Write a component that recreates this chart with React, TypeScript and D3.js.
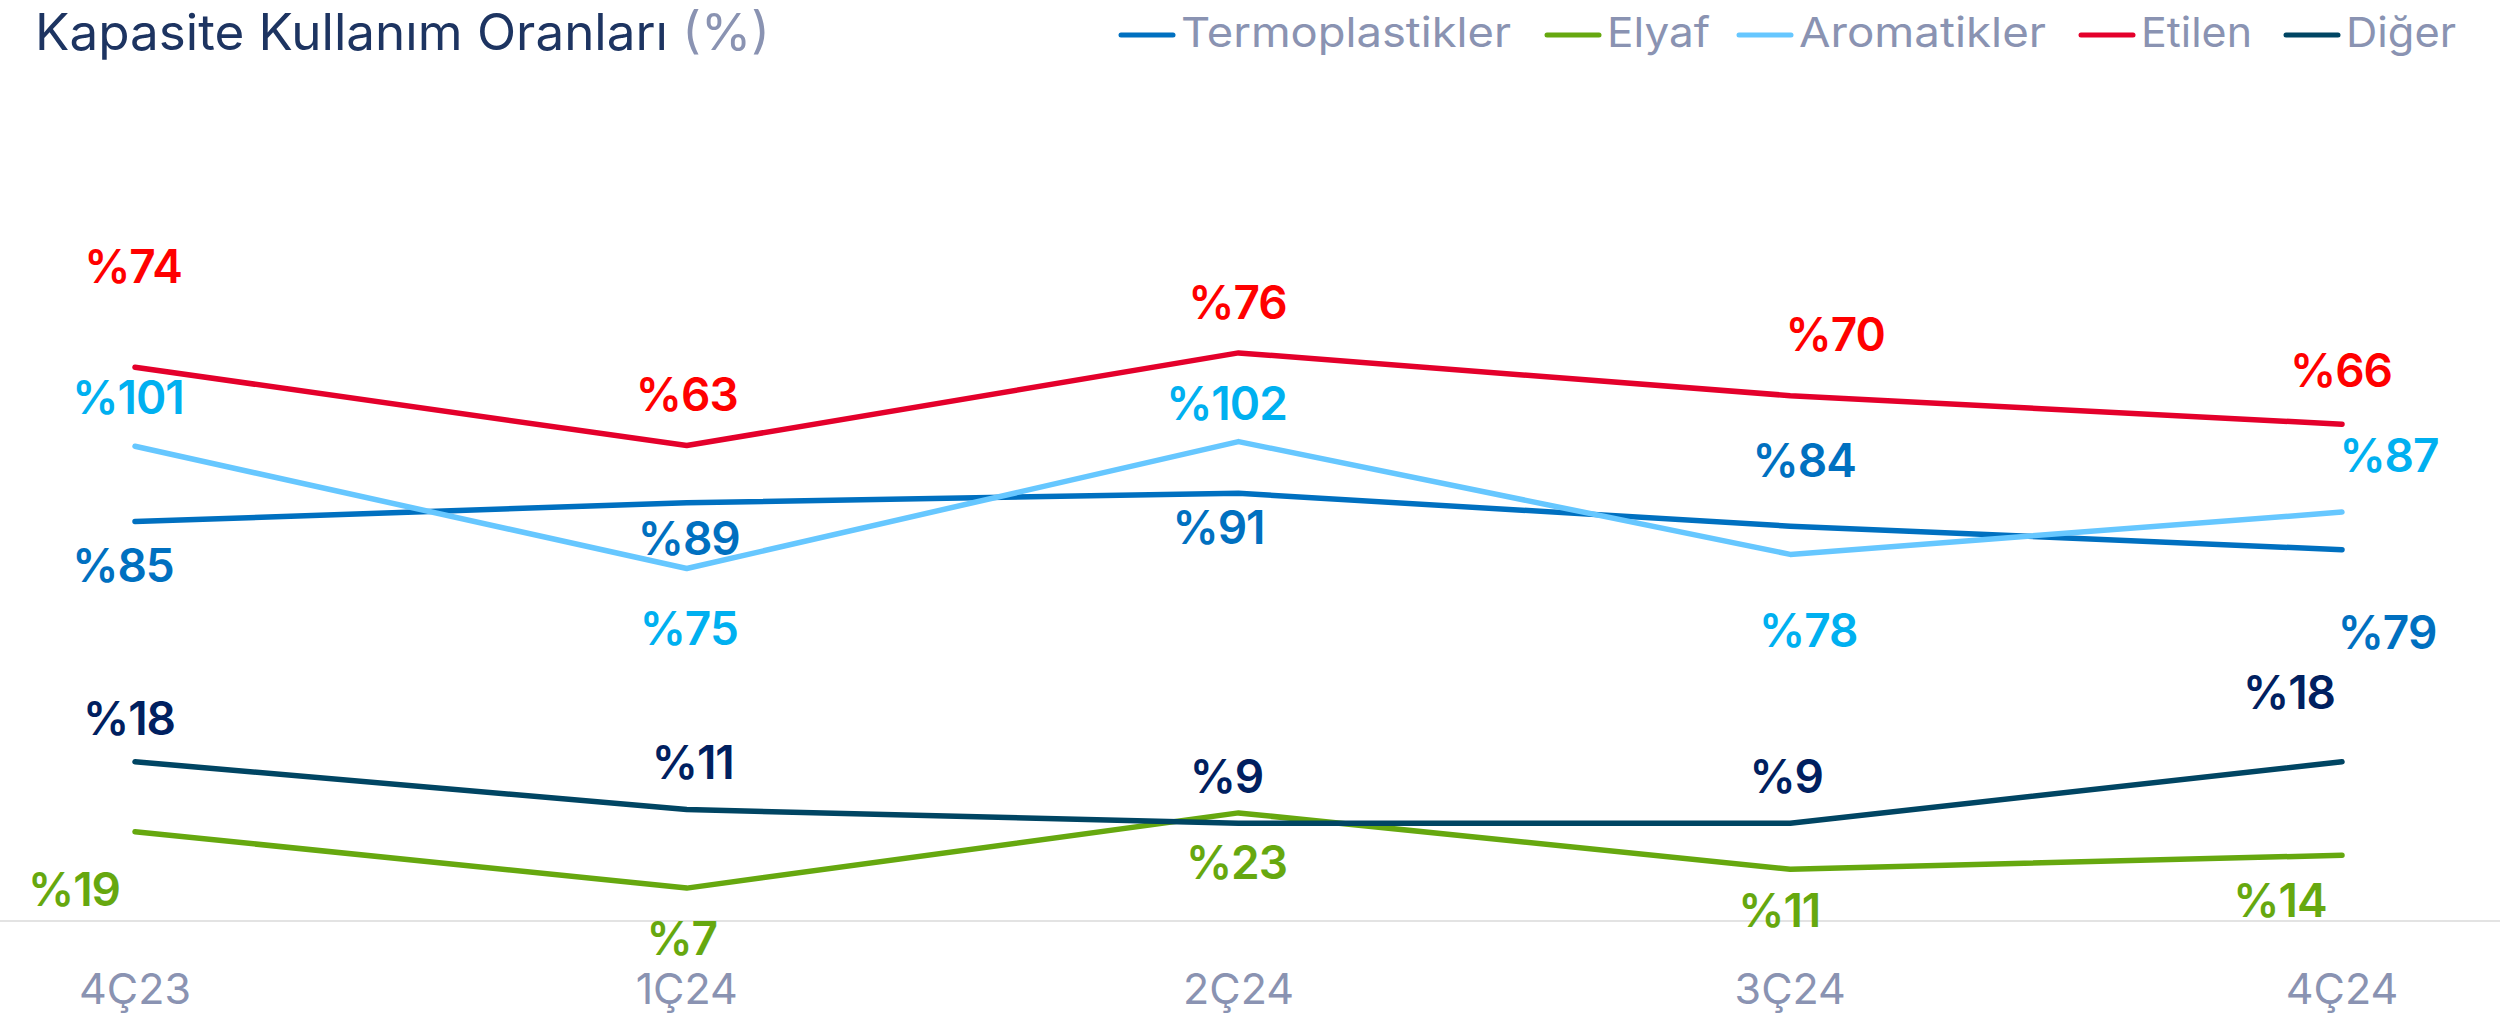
import React from "react";
import * as d3 from "d3";

const categories = ["4Ç23", "1Ç24", "2Ç24", "3Ç24", "4Ç24"];
const termoplastikler = [85, 89, 91, 84, 79];
const elyaf = [19, 7, 23, 11, 14];
const aromatikler = [101, 75, 102, 78, 87];
const etilen = [74, 63, 76, 70, 66];
const diger = [18, 11, 9, 9, 18];
const seriesNames = ["Termoplastikler", "Elyaf", "Aromatikler", "Etilen", "Diğer"];

const W = 2500;
const H = 1026;
const FONT = "Inter, 'Open Sans', sans-serif";

type Series = {
  name: string;
  values: number[];
  line: string;
  label: string;
  domain: [number, number];
  dx: number[];
  dy: number[];
};

const series: Series[] = [
  { name: seriesNames[0], values: termoplastikler, line: "#0070C0", label: "#0070C0", domain: [0, 160],
    dx: [-12, 2, -20, 14, 45], dy: [60, 52, 51, -49, 99] },
  { name: seriesNames[1], values: elyaf, line: "#66A80F", label: "#66A80F", domain: [0, 160],
    dx: [-61, -5, -2, -11, -62], dy: [74, 67, 66, 58, 62] },
  { name: seriesNames[2], values: aromatikler, line: "#66C7FF", label: "#00B0F0", domain: [0, 160],
    dx: [-7, 2, -12, 18, 47], dy: [-32, 76, -22, 93, -40] },
  { name: seriesNames[3], values: etilen, line: "#E4002B", label: "#FF0000", domain: [-3.7, 101.8],
    dx: [-2, 0, -1, 45, -1], dy: [-84, -35, -34, -45, -37] },
  { name: seriesNames[4], values: diger, line: "#004563", label: "#002060", domain: [-5.3, 104.7],
    dx: [-6, 6, -12, -4, -53], dy: [-27, -31, -30, -30, -53] },
];

const legendX = [1118, 1544, 1736, 2078, 2283];
const legendTextW = [330, 103, 247, 111, 110];

export default function App() {
  const x = d3.scalePoint<string>().domain(categories).range([135, 2342]);
  const baseY = 921;
  const topY = 169;

  return (
    <div style={{ position: "absolute", left: 0, top: 0, width: W, height: H, background: "#fff" }}>
      <svg width={W} height={H} style={{ display: "block" }}>
        <rect x={0} y={0} width={W} height={H} fill="#fff" />
        {/* title */}
        <text x={35} y={50} fontFamily={FONT} fontSize={50} fill="#1D3461" textLength={735} lengthAdjust="spacingAndGlyphs">
          Kapasite Kullanım Oranları <tspan fill="#8A93B2">(%)</tspan>
        </text>
        {/* legend */}
        {series.map((s, i) => (
          <g key={s.name}>
            <line x1={legendX[i] + 3} x2={legendX[i] + 55} y1={35} y2={35} stroke={s.line} strokeWidth={5} strokeLinecap="round" />
            <text x={legendX[i] + 63} y={47} fontFamily={FONT} fontSize={41} fill="#8A93B2"
              textLength={legendTextW[i]} lengthAdjust="spacingAndGlyphs">{s.name}</text>
          </g>
        ))}
        {/* baseline */}
        <line x1={0} x2={W} y1={baseY} y2={baseY} stroke="#E3E3E3" strokeWidth={2} />
        {/* x axis labels */}
        {categories.map((c) => (
          <text key={c} x={x(c)} y={1004} textAnchor="middle" fontFamily={FONT} fontSize={43} fill="#8A93B2">{c}</text>
        ))}
        {/* lines */}
        {series.map((s) => {
          const y = d3.scaleLinear().domain(s.domain).range([baseY, topY]);
          const gen = d3.line<number>().x((_, i) => x(categories[i]) as number).y((v) => y(v));
          return (
            <path key={s.name} d={gen(s.values) || ""} fill="none" stroke={s.line} strokeWidth={5.5}
              strokeLinecap="round" strokeLinejoin="round" />
          );
        })}
        {/* labels */}
        {series.map((s) => {
          const y = d3.scaleLinear().domain(s.domain).range([baseY, topY]);
          return s.values.map((v, i) => (
            <text key={s.name + i} x={(x(categories[i]) as number) + s.dx[i]} y={y(v) + s.dy[i]}
              textAnchor="middle" fontFamily={FONT} fontWeight={600} fontSize={46} fill={s.label}
              letterSpacing={-1}>
              {"%" + v}
            </text>
          ));
        })}
      </svg>
    </div>
  );
}
